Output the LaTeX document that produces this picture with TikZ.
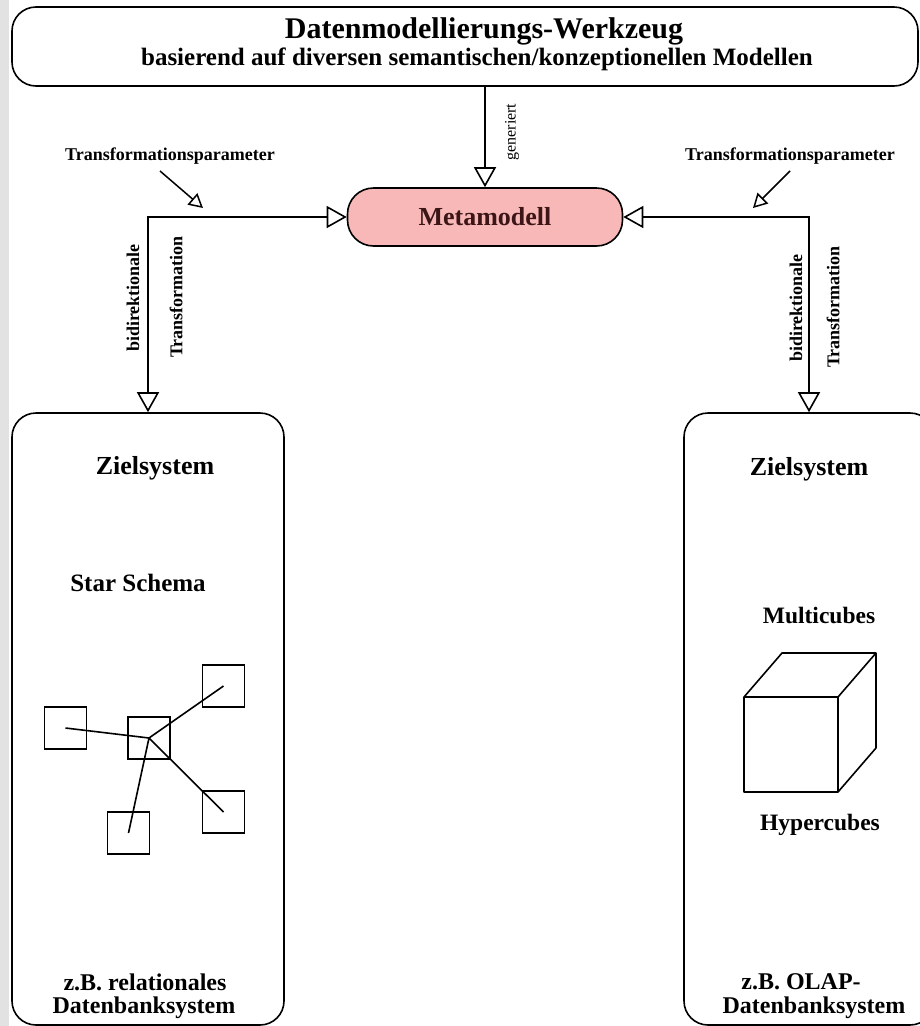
\documentclass[tikz,border=0pt]{standalone}
\usepackage{fontspec}
\setmainfont{Liberation Serif}
\usetikzlibrary{arrows.meta}
\definecolor{metapink}{RGB}{248,184,184}
\definecolor{metatext}{RGB}{60,22,22}
\definecolor{edgegray}{RGB}{226,226,226}
\tikzset{
  frame/.style={draw, line width=1.6pt, rounded corners=24pt, inner sep=0pt},
  flow/.style={line width=1.6pt, >={Triangle[open, length=20pt, width=22pt]}},
  hint/.style={line width=1.5pt, >={Triangle[open, length=14pt, width=15pt]}},
  sq/.style={draw, line width=1.4pt, minimum size=42pt, inner sep=0pt},
  fs/.style={font=\fontsize{#1}{#1}\selectfont\bfseries},
  fr/.style={font=\fontsize{#1}{#1}\selectfont},
  lbl/.style={inner sep=0pt, anchor=center},
}
\begin{document}
\begin{tikzpicture}[x=1pt, y=-1pt]
  \useasboundingbox (0,0) rectangle (920,1026);
  \clip (0,0) rectangle (920,1026);
  \fill[edgegray] (0,0) rectangle (9,1026);

  % main boxes
  \node[frame, minimum width=906pt, minimum height=79pt] (tool) at (465,46.5) {};
  \node[frame, rounded corners=26pt, fill=metapink, minimum width=275pt, minimum height=58pt,
        fs=26, text=metatext] (meta) at (485,217) {Metamodell};
  \node[frame, minimum width=272pt, minimum height=612pt] (lbox) at (148,719) {};
  \node[frame, minimum width=250pt, minimum height=612pt] (rbox) at (809,719) {};

  % header texts
  \node[lbl, fs=30] (title) at (484,31) {Datenmodellierungs-Werkzeug};
  \node[lbl, fs=25] (subtitle) at (477,59) {basierend auf diversen semantischen/konzeptionellen Modellen};

  % connectors
  \draw[flow, ->] (meta.north |- tool.south) -- (meta.north);
  \draw[flow, <->] (meta.west) -| (lbox.north);
  \draw[flow, <->] (meta.east) -| (rbox.north);

  \node[lbl, fr=16, rotate=90] (gen) at (512,132) {generiert};

  % transformation parameters
  \node[lbl, fs=18] (tpl) at (170,156) {Transformationsparameter};
  \node[lbl, fs=18] (tpr) at (790,156) {Transformationsparameter};
  \coordinate (tpls) at (160,171);
  \coordinate (tple) at (203,208);
  \coordinate (tprs) at (790,171);
  \coordinate (tpre) at (753,208);
  \draw[hint, ->] (tpls) -- (tple);
  \draw[hint, ->] (tprs) -- (tpre);

  \node[lbl, fs=18, rotate=90] (bidl) at (133,298) {bidirektionale};
  \node[lbl, fs=18, rotate=90] (trl) at (176,297) {Transformation};
  \node[lbl, fs=18, rotate=90] (bidr) at (796,308) {bidirektionale};
  \node[lbl, fs=18, rotate=90] (trr) at (833,307) {Transformation};

  % left target system
  \node[lbl, fs=26] (zl) at (155,468) {Zielsystem};
  \node[lbl, fs=25] (star) at (138,583) {Star Schema};
  \node[sq] (sc) at (149,738) {};
  \node[sq] (sl) at (65.5,728) {};
  \node[sq] (s1) at (223.5,686) {};
  \node[sq] (s2) at (223.5,812) {};
  \node[sq] (s3) at (128.5,833) {};
  \draw[line width=1.6pt] (sc.center) -- (sl.center)
        (sc.center) -- (s1.center)
        (sc.center) -- (s2.center)
        (sc.center) -- (s3.center);
  \node[lbl, fs=24] (zbl1) at (145,982) {z.B. relationales};
  \node[lbl, fs=24] (zbl2) at (144,1008) {Datenbanksystem};

  % right target system
  \node[lbl, fs=26] (zr) at (809,469) {Zielsystem};
  \node[lbl, fs=23.5] (multi) at (819,615) {Multicubes};
  \draw[line width=1.6pt, line join=round]
        (744,697) rectangle (838,792)
        (744,697) -- (782,653) -- (876,653) -- (838,697)
        (876,653) -- (876,748) -- (838,792);
  \node[lbl, fs=23.5] (hyper) at (820,825) {Hypercubes};
  \node[lbl, fs=24] (zbr1) at (801,982) {z.B. OLAP-};
  \node[lbl, fs=24] (zbr2) at (814,1008) {Datenbanksystem};
\end{tikzpicture}
\end{document}
